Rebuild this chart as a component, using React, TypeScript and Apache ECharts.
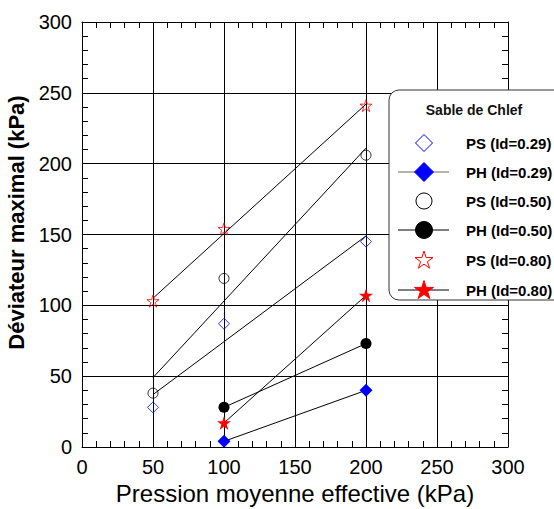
import React, { useEffect, useRef } from "react";
import * as echarts from "echarts";

// ---- Data ----
const psId029: [number, number][] = [[50, 28], [100, 87], [200, 145]];
const phId029: [number, number][] = [[100, 4], [200, 40]];
const psId050: [number, number][] = [[50, 38], [100, 119], [200, 206]];
const phId050: [number, number][] = [[100, 28], [200, 73]];
const psId080: [number, number][] = [[50, 103], [100, 154], [200, 241]];
const phId080: [number, number][] = [[100, 17], [200, 107]];

// Fitted trend lines drawn through the PS points (end points)
const fitPs029: [number, number][] = [[50, 37], [200, 149]];
const fitPs050: [number, number][] = [[50, 49], [200, 211]];
const fitPs080: [number, number][] = [[50, 105], [200, 242]];

const legendTitle = "Sable de Chlef";
const legendLabels = [
  "PS (Id=0.29)",
  "PH (Id=0.29)",
  "PS (Id=0.50)",
  "PH (Id=0.50)",
  "PS (Id=0.80)",
  "PH (Id=0.80)",
];

const xName = "Pression moyenne effective (kPa)";
const yName = "Déviateur maximal (kPa)";

const FONT = 'Arial, "Liberation Sans", sans-serif';
const BLUE = "#0000ff";
const RED = "#ff0000";
const BLACK = "#000000";
const STAR =
  "path://M0,-10L2.245,-3.09L9.511,-3.09L3.633,1.18L5.878,8.09L0,3.82L-5.878,8.09L-3.633,1.18L-9.511,-3.09L-2.245,-3.09Z";

function starPoints(cx: number, cy: number, R: number): number[][] {
  const pts: number[][] = [];
  const r = R * 0.382;
  for (let i = 0; i < 10; i++) {
    const a = -Math.PI / 2 + (i * Math.PI) / 5;
    const rr = i % 2 === 0 ? R : r;
    pts.push([cx + rr * Math.cos(a), cy + rr * Math.sin(a)]);
  }
  return pts;
}

function diamondPoints(cx: number, cy: number, h: number): number[][] {
  return [
    [cx, cy - h],
    [cx + h, cy],
    [cx, cy + h],
    [cx - h, cy],
  ];
}

export default function App() {
  const ref = useRef<HTMLDivElement>(null);

  useEffect(() => {
    if (!ref.current) return;
    const chart = echarts.init(ref.current, undefined, { renderer: "svg" });

    const base = (position: string) => ({
      type: "value" as const,
      min: 0,
      max: 300,
      interval: 50,
      gridIndex: 0,
      position,
      axisLine: { show: true, onZero: false, lineStyle: { color: BLACK, width: 1 } },
      axisTick: { show: true, inside: true, length: 6, lineStyle: { color: BLACK, width: 1 } },
      minorTick: { show: true, splitNumber: 5, length: 6, lineStyle: { color: BLACK, width: 1 } },
    });
    const extra = (position: string) => ({
      ...base(position),
      splitLine: { show: false },
      axisLabel: { show: false },
    });

    // Legend (custom drawn)
    const markerX = 424;
    const lineX0 = 398;
    const lineX1 = 449;
    const textX = 466;
    const rowY = [143, 172, 201, 230, 260, 290];
    const legendEls: any[] = [
      {
        type: "rect",
        shape: { x: 389, y: 90, width: 180, height: 210, r: 10 },
        style: { fill: "#ffffff", stroke: "#333333", lineWidth: 1 },
        z: 100,
      },
      {
        type: "text",
        x: 474,
        y: 110,
        style: {
          text: legendTitle,
          fill: "#111111",
          font: `bold 14px ${FONT}`,
          align: "center",
          verticalAlign: "middle",
        },
        z: 101,
      },
    ];
    const hasLine = [false, true, false, true, false, true];
    rowY.forEach((y, i) => {
      if (hasLine[i]) {
        legendEls.push({
          type: "line",
          shape: { x1: lineX0, y1: y, x2: lineX1, y2: y },
          style: { stroke: i === 1 ? "#666666" : BLACK, lineWidth: 1 },
          z: 101,
        });
      }
      legendEls.push({
        type: "text",
        x: textX,
        y,
        style: {
          text: legendLabels[i],
          fill: "#000000",
          font: `bold 15px ${FONT}`,
          align: "left",
          verticalAlign: "middle",
        },
        z: 101,
      });
    });
    legendEls.push(
      {
        type: "polygon",
        shape: { points: diamondPoints(markerX, rowY[0], 8.5) },
        style: { fill: "#ffffff", stroke: BLUE, lineWidth: 1 },
        z: 102,
      },
      {
        type: "polygon",
        shape: { points: diamondPoints(markerX, rowY[1], 9.5) },
        style: { fill: BLUE, stroke: BLUE, lineWidth: 1 },
        z: 102,
      },
      {
        type: "circle",
        shape: { cx: markerX, cy: rowY[2], r: 8 },
        style: { fill: "#ffffff", stroke: BLACK, lineWidth: 1 },
        z: 102,
      },
      {
        type: "circle",
        shape: { cx: markerX, cy: rowY[3], r: 8.5 },
        style: { fill: BLACK, stroke: BLACK, lineWidth: 1 },
        z: 102,
      },
      {
        type: "polygon",
        shape: { points: starPoints(markerX, rowY[4] + 0.5, 9.5) },
        style: { fill: "#ffffff", stroke: RED, lineWidth: 1 },
        z: 102,
      },
      {
        type: "polygon",
        shape: { points: starPoints(markerX, rowY[5] + 0.5, 10) },
        style: { fill: RED, stroke: RED, lineWidth: 1 },
        z: 102,
      }
    );

    const fitLine = (data: [number, number][]) => ({
      type: "line" as const,
      data,
      symbol: "none",
      lineStyle: { color: BLACK, width: 1 },
      z: 2,
      silent: true,
    });

    const hollow = (data: [number, number][], symbol: string, size: number, color: string) => ({
      type: "scatter" as const,
      data,
      symbol,
      symbolSize: size,
      itemStyle: { color: "rgba(0,0,0,0)", borderColor: color, borderWidth: 1 },
      z: 4,
    });

    const filled = (data: [number, number][], symbol: string, size: number, color: string) => ({
      type: "line" as const,
      data,
      symbol,
      symbolSize: size,
      showAllSymbol: true,
      itemStyle: { color },
      lineStyle: { color: BLACK, width: 1 },
      z: 4,
    });

    chart.setOption({
      animation: false,
      backgroundColor: "#ffffff",
      textStyle: { fontFamily: FONT },
      grid: [
        {
          left: 82,
          top: 22,
          width: 426,
          height: 425,
          containLabel: false,
          outerBoundsMode: "none",
        },
      ],
      xAxis: [
        {
          ...base("bottom"),
          splitLine: { show: true, lineStyle: { color: BLACK, width: 1 } },
          axisLabel: { show: true, fontSize: 20, color: BLACK, margin: 10, fontFamily: FONT },
          name: xName,
          nameLocation: "middle",
          nameGap: 34,
          nameTextStyle: { fontSize: 24, color: BLACK, fontFamily: FONT },
        },
        extra("top"),
      ],
      yAxis: [
        {
          ...base("left"),
          splitLine: { show: true, lineStyle: { color: BLACK, width: 1 } },
          axisLabel: { show: true, fontSize: 20, color: BLACK, margin: 10, fontFamily: FONT },
          name: yName,
          nameLocation: "middle",
          nameGap: 48,
          nameTextStyle: { fontSize: 22, fontWeight: "bold", color: BLACK, fontFamily: FONT, padding: [0, 0, 0, 24] },
        },
        extra("right"),
      ],
      series: [
        fitLine(fitPs029),
        fitLine(fitPs050),
        fitLine(fitPs080),
        hollow(psId029, "diamond", 11, BLUE),
        filled(phId029, "diamond", 13, BLUE),
        hollow(psId050, "circle", 10, BLACK),
        filled(phId050, "circle", 11, BLACK),
        hollow(psId080, STAR, 12, RED),
        filled(phId080, STAR, 14, RED),
      ],
      graphic: legendEls,
    });

    return () => {
      chart.dispose();
    };
  }, []);

  return <div ref={ref} style={{ width: 554, height: 509, position: "absolute", left: 0, top: 0 }} />;
}
